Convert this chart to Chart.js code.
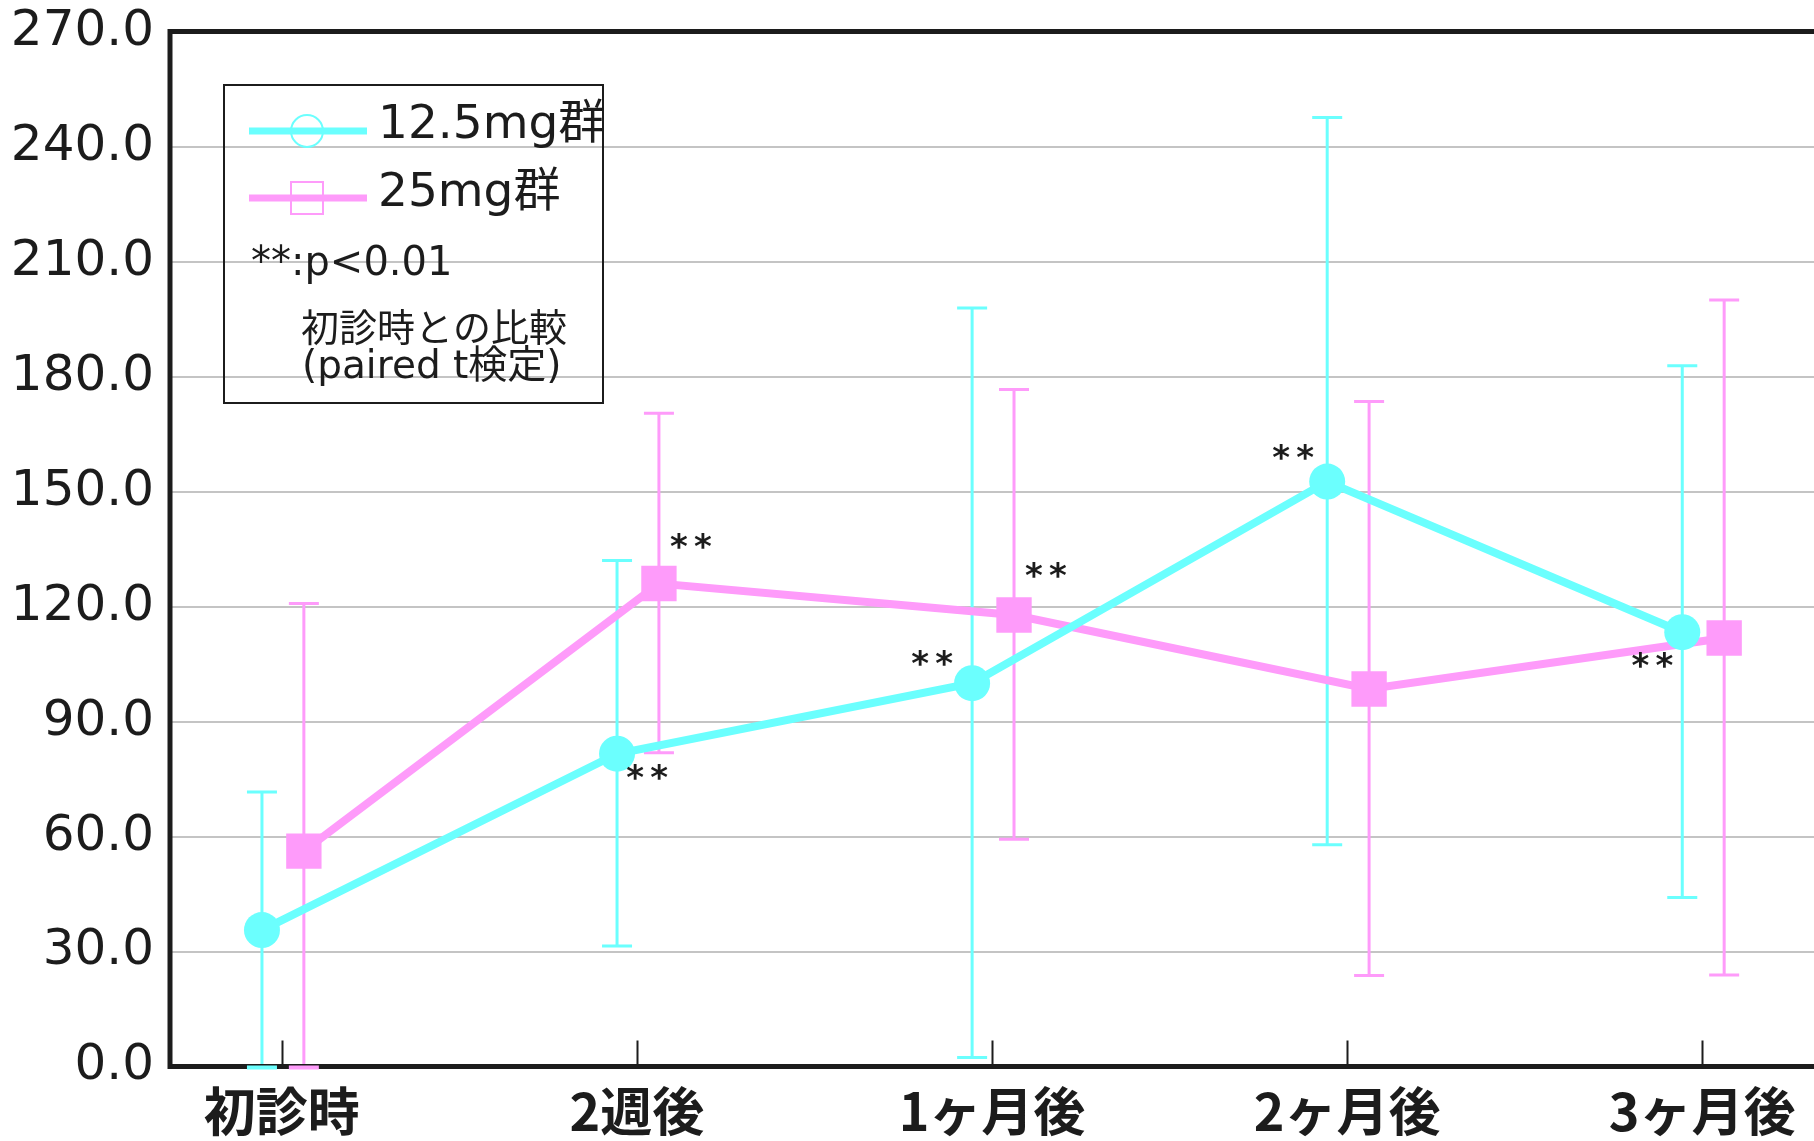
<!DOCTYPE html>
<html>
<head>
<meta charset="utf-8">
<script src="https://cdn.jsdelivr.net/npm/chart.js@4.4.0/dist/chart.umd.min.js"></script>
<style>
html, body { margin: 0; padding: 0; background: #fff; }
canvas { display: block; }
</style>
</head>
<body>
<canvas id="myChart" width="1814" height="1141"></canvas>
<script>
// データ
const categories = ['初診時', '2週後', '1ヶ月後', '2ヶ月後', '3ヶ月後'];
const seriesNames = ['12.5mg群', '25mg群'];
const mean125 = [35.6, 81.6, 100.0, 152.6, 113.3];
const sd125 = [36.0, 50.4, 97.9, 95.0, 69.5];
const mean25 = [56.2, 126.0, 117.8, 98.5, 111.8];
const sd25 = [64.6, 44.4, 58.8, 75.0, 88.2];
const yTicks = [0, 30, 60, 90, 120, 150, 180, 210, 240, 270];
// ** の付く点 [系列, 点]
const sigPoints = [[0, 1], [1, 1], [0, 2], [1, 2], [0, 3], [0, 4]];

const cyan = '#6bfffe';
const pink = '#fe9bfa';
const ink = '#1c1c1c';
const jp = '"Noto Sans CJK JP", "DejaVu Sans", sans-serif';
const lat = '"DejaVu Sans", "Noto Sans CJK JP", sans-serif';

// ずらし (x方向)
const shift = [-0.056, 0.062];
// ** の位置 (点からのピクセル)
const sigOffset = [[30, 20], [32, -40], [-40, -23], [32, -43], [-34, -27], [-30, 30]];

function toPoints(means, s) {
  return means.map((v, i) => ({ x: i + s, y: v }));
}

function errEnds(chart, ds, i) {
  const xs = chart.scales.x, ys = chart.scales.y;
  const p = ds.data[i], s = ds.sd[i];
  return {
    px: xs.getPixelForValue(p.x),
    top: ys.getPixelForValue(p.y + s),
    bot: ys.getPixelForValue(Math.max(0, p.y - s)),
    zero: p.y - s <= 0
  };
}

const extras = {
  id: 'extras',
  beforeDatasetsDraw(chart) {
    // エラーバー
    const ctx = chart.ctx;
    ctx.save();
    chart.data.datasets.forEach((ds) => {
      ctx.strokeStyle = ds.borderColor;
      ds.sd.forEach((s, i) => {
        const e = errEnds(chart, ds, i);
        ctx.lineWidth = 3;
        ctx.beginPath();
        ctx.moveTo(e.px, e.top); ctx.lineTo(e.px, e.bot);
        ctx.moveTo(e.px - 15, e.top); ctx.lineTo(e.px + 15, e.top);
        ctx.moveTo(e.px - 15, e.bot - 1); ctx.lineTo(e.px + 15, e.bot - 1);
        ctx.stroke();
      });
    });
    ctx.restore();
  },
  afterDraw(chart) {
    const ctx = chart.ctx, xs = chart.scales.x, ys = chart.scales.y;
    const a = chart.chartArea;
    ctx.save();
    // 枠
    ctx.strokeStyle = ink;
    ctx.lineWidth = 5;
    ctx.beginPath();
    ctx.moveTo(chart.width, a.top);
    ctx.lineTo(a.left, a.top);
    ctx.lineTo(a.left, a.bottom);
    ctx.lineTo(chart.width, a.bottom);
    ctx.stroke();
    // 目盛り (内向き)
    ctx.lineWidth = 2;
    ctx.beginPath();
    categories.forEach((c, i) => {
      const px = Math.round(xs.getPixelForValue(i)) + 0.5;
      ctx.moveTo(px, a.bottom);
      ctx.lineTo(px, a.bottom - 26);
    });
    ctx.stroke();
    // 0 のキャップ
    ctx.lineWidth = 4;
    chart.data.datasets.forEach((ds) => {
      ctx.strokeStyle = ds.borderColor;
      ds.sd.forEach((s, i) => {
        const e = errEnds(chart, ds, i);
        if (!e.zero) return;
        ctx.beginPath();
        ctx.moveTo(e.px - 15, a.bottom + 1); ctx.lineTo(e.px + 15, a.bottom + 1);
        ctx.stroke();
      });
    });

    // **
    ctx.fillStyle = ink;
    ctx.font = 'bold 34px ' + lat;
    ctx.textAlign = 'center';
    ctx.textBaseline = 'middle';
    sigPoints.forEach((sp, k) => {
      const p = chart.data.datasets[sp[0]].data[sp[1]];
      const px = xs.getPixelForValue(p.x) + sigOffset[k][0];
      const py = ys.getPixelForValue(p.y) + sigOffset[k][1] + 6;
      ctx.fillText('*', px - 12, py);
      ctx.fillText('*', px + 12, py);
    });

    // 凡例
    ctx.lineWidth = 2;
    ctx.strokeStyle = ink;
    ctx.strokeRect(224, 85, 379, 318);

    ctx.lineWidth = 7;
    ctx.strokeStyle = cyan;
    ctx.beginPath(); ctx.moveTo(249, 131); ctx.lineTo(367, 131); ctx.stroke();
    ctx.lineWidth = 2;
    ctx.beginPath(); ctx.arc(307, 131, 16, 0, Math.PI * 2); ctx.stroke();

    ctx.lineWidth = 7;
    ctx.strokeStyle = pink;
    ctx.beginPath(); ctx.moveTo(249, 198); ctx.lineTo(367, 198); ctx.stroke();
    ctx.lineWidth = 2;
    ctx.strokeRect(291, 182, 32, 32);

    ctx.fillStyle = ink;
    ctx.textAlign = 'left';
    ctx.textBaseline = 'middle';
    ctx.font = '47px ' + lat;
    ctx.fillText(seriesNames[0], 378, 126);
    ctx.fillText(seriesNames[1], 378, 194);
    ctx.font = '40px ' + lat;
    ctx.fillText('**:p<0.01', 251, 265);
    ctx.font = '38px ' + jp;
    ctx.fillText('初診時との比較', 301, 327);
    ctx.font = '39px ' + lat;
    ctx.fillText('(paired t検定)', 302, 368);
    ctx.restore();
  }
};

const ctx = document.getElementById('myChart').getContext('2d');
const myChart = new Chart(ctx, {
  type: 'line',
  data: {
    datasets: [{
      label: seriesNames[0],
      data: toPoints(mean125, shift[0]),
      sd: sd125,
      borderColor: cyan,
      backgroundColor: cyan,
      borderWidth: 8,
      pointStyle: 'circle',
      pointRadius: 18,
      pointBorderWidth: 0,
      pointBackgroundColor: cyan,
      tension: 0
    }, {
      label: seriesNames[1],
      data: toPoints(mean25, shift[1]),
      sd: sd25,
      borderColor: pink,
      backgroundColor: pink,
      borderWidth: 8,
      pointStyle: 'rect',
      pointRadius: 25,
      pointBorderWidth: 0,
      pointBackgroundColor: pink,
      tension: 0
    }]
  },
  options: {
    responsive: false,
    animation: false,
    devicePixelRatio: 1,
    layout: { autoPadding: false, padding: { top: 31.6, left: 0, right: 0, bottom: 0 } },
    plugins: { legend: { display: false }, tooltip: { enabled: false } },
    scales: {
      x: {
        type: 'linear',
        min: -0.315,
        max: 4.315,
        afterBuildTicks: (scale) => { scale.ticks = categories.map((c, i) => ({ value: i })); },
        afterFit: (scale) => {
          scale.height = 74.5;
          scale.paddingLeft = 0;
          scale.paddingRight = 0;
        },
        grid: { display: false, drawTicks: false },
        border: { display: false },
        ticks: {
          callback: (v) => categories[v],
          font: { family: jp, size: 52, weight: 'bold' },
          color: ink,
          padding: 14,
          maxRotation: 0,
          autoSkip: false
        }
      },
      y: {
        min: 0,
        max: 270,
        afterBuildTicks: (scale) => { scale.ticks = yTicks.map(v => ({ value: v })); },
        afterFit: (scale) => {
          scale.width = 170;
          scale.paddingTop = 0;
          scale.paddingBottom = 0;
        },
        grid: { color: '#c4c4c4', lineWidth: 2, drawTicks: false },
        border: { display: false },
        ticks: {
          callback: (v) => v.toFixed(1),
          font: { family: '"DejaVu Sans", sans-serif', size: 50, lineHeight: 1 },
          color: ink,
          padding: 16
        }
      }
    }
  },
  plugins: [extras]
});
</script>
</body>
</html>
